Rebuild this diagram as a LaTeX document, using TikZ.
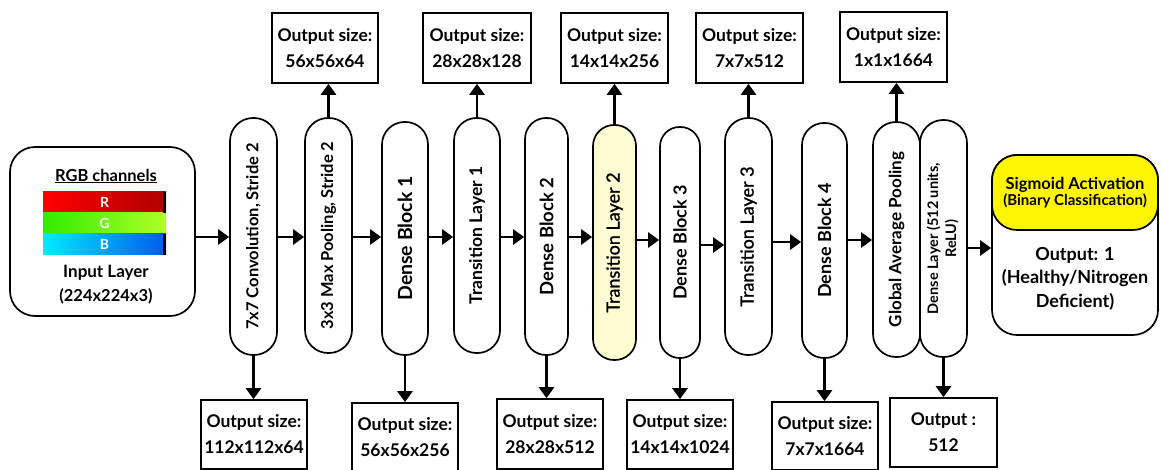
\documentclass[tikz,border=0pt]{standalone}
\usepackage{fontspec}
\setmainfont{Lato}
\newfontfamily\medfont{Lato}[FakeBold=1.3]
\usetikzlibrary{arrows.meta}
\definecolor{paleyellow}{RGB}{255,252,212}
\definecolor{sigyellow}{RGB}{255,245,0}
\newcommand\pillnode[8]{\node[pill, minimum width=#4pt, minimum height=#5pt, rounded corners=#6pt, #8] (#1) at (#2,#3) {\rotatebox{90}{#7}};}
\newcommand\outbox[6]{\node[obox, minimum width=#4pt, minimum height=#5pt] (#1) at (#2,#3) {#6};}
\begin{document}
\begin{tikzpicture}[x=1pt,y=-1pt,
  pill/.style={draw, line width=1.7pt, inner sep=0pt, fill=white},
  obox/.style={draw, line width=1.7pt, inner sep=0pt, align=center, font=\bfseries\fontsize{17.5}{26}\selectfont},
  arr/.style={line width=2.8pt, -{Triangle[width=15pt,length=11pt]}},
  bar/.style={inner sep=0pt, minimum width=123pt, minimum height=21pt, text=white, font=\bfseries\fontsize{14}{14}\selectfont},
]
\useasboundingbox (0,0) rectangle (1161,470);

% input layer
\node[draw, line width=1.7pt, rounded corners=25pt, minimum width=185pt, minimum height=169pt, inner sep=0pt] (in) at (102.5,231.5) {};
\node[font=\bfseries\fontsize{16.5}{16.5}\selectfont] (rgb) at (106,176) {\underline{RGB channels}};
\node[bar, left color=red, right color={rgb,255:red,175;green,0;blue,0}] (r) at (104.5,202.5) {R};
\node[bar, left color={rgb,255:red,50;green,235;blue,0}, right color={rgb,255:red,175;green,255;blue,40}] (g) at (104.5,223.5) {G};
\node[bar, left color={rgb,255:red,0;green,235;blue,255}, right color={rgb,255:red,0;green,90;blue,235}] (b) at (104.5,244.5) {B};
\fill[black] (r.north east) ++(-3,0) rectangle (r.south east);
\fill[black] (b.north east) ++(-3,0) rectangle (b.south east);
\node[font=\bfseries\fontsize{17}{17}\selectfont] (inl) at (106,273) {Input Layer};
\node[font=\bfseries\fontsize{16.5}{16.5}\selectfont] (ins) at (106,296) {(224x224x3)};

% pills
\pillnode{conv}{253.5}{236.5}{47}{237}{23}{\bfseries\fontsize{16.5}{16.5}\selectfont 7x7 Convolution, Stride 2}{}
\pillnode{pool}{328.5}{235.5}{47}{235}{23}{\bfseries\fontsize{16.5}{16.5}\selectfont 3x3 Max Pooling, Stride 2}{}
\pillnode{db1}{405}{238.5}{46}{233}{22.5}{\bfseries\fontsize{19.5}{19.5}\selectfont Dense Block 1}{}
\pillnode{t1}{477}{235.5}{46}{235}{22.5}{\bfseries\fontsize{17.5}{17.5}\selectfont Transition Layer 1}{}
\pillnode{db2}{546.5}{236.5}{43}{237}{21}{\bfseries\fontsize{18.5}{18.5}\selectfont Dense Block 2}{}
\pillnode{t2}{614.5}{242.5}{43}{235}{21}{\medfont\fontsize{18}{18}\selectfont Transition Layer 2}{fill=paleyellow}
\pillnode{db3}{680}{242.5}{40}{231}{19.5}{\bfseries\fontsize{18}{18}\selectfont Dense Block 3}{}
\pillnode{t3}{748.5}{236.5}{47}{237}{23}{\medfont\fontsize{18}{18}\selectfont Transition Layer 3}{}
\pillnode{db4}{824.5}{240.5}{45}{235}{22}{\bfseries\fontsize{18}{18}\selectfont Dense Block 4}{}
\pillnode{gap}{896.5}{239.5}{47}{235}{23}{\bfseries\fontsize{17}{17}\selectfont Global Average Pooling}{}
\pillnode{dl}{943.5}{238.5}{47}{237}{23}{\bfseries\fontsize{14.5}{18}\selectfont\begin{tabular}{@{}c@{}}Dense Layer (512 units,\\ReLU)\end{tabular}}{}

% output
\node[draw, line width=1.7pt, rounded corners=25pt, minimum width=166pt, minimum height=180pt, inner sep=0pt] (out) at (1075,245) {};
\node[draw, line width=1.7pt, rounded corners=25pt, fill=sigyellow, minimum width=166pt, minimum height=75pt, inner sep=0pt, align=center, font=\bfseries] (sig) at (1075,192.5) {\fontsize{16.5}{23}\selectfont Sigmoid Activation\\\fontsize{15}{15}\selectfont (Binary Classification)};
\node[align=center, font=\bfseries\fontsize{18}{23.5}\selectfont] (res) at (1075,278.5) {Output: 1\\(Healthy/Nitrogen\\Deficient)};

% top output boxes
\outbox{opool}{325}{48}{106}{70}{Output size:\\56x56x64}
\outbox{ot1}{477}{48}{108}{70}{Output size:\\28x28x128}
\outbox{ot2}{614.5}{48}{107}{70}{Output size:\\14x14x256}
\outbox{ot3}{749.5}{48}{107}{70}{Output size:\\7x7x512}
\outbox{ogap}{893.5}{47}{107}{70}{Output size:\\1x1x1664}
% bottom output boxes
\outbox{oconv}{254}{434.5}{106}{69}{Output size:\\112x112x64}
\outbox{odb1}{405}{437}{106}{68}{Output size:\\56x56x256}
\outbox{odb2}{550}{434}{106}{70}{Output size:\\28x28x512}
\outbox{odb3}{680}{434.5}{106}{69}{Output size:\\14x14x1024}
\outbox{odb4}{825}{436}{106}{68}{Output size:\\7x7x1664}
\outbox{odl}{943.5}{432.5}{107}{69}{Output :\\512}

% horizontal arrows
\draw[arr] (in.east |- 0,237) -- (conv.west |- 0,237);
\draw[arr] (conv.east |- 0,237) -- (pool.west |- 0,237);
\draw[arr] (pool.east |- 0,237) -- (db1.west |- 0,237);
\draw[arr] (db1.east |- 0,237) -- (t1.west |- 0,237);
\draw[arr] (t1.east |- 0,237) -- (db2.west |- 0,237);
\draw[arr] (db2.east |- 0,237) -- (t2.west |- 0,237);
\draw[arr] (t2.east |- 0,240) -- (db3.west |- 0,240);
\draw[arr] (db3.east |- 0,245) -- (t3.west |- 0,245);
\draw[arr] (t3.east |- 0,242) -- (db4.west |- 0,242);
\draw[arr] (db4.east |- 0,240) -- (gap.west |- 0,240);
\draw[arr] (dl.east |- 0,248) -- (out.west |- 0,248);

% vertical arrows
\draw[arr] (pool.north) -- (pool.north |- opool.south);
\draw[arr] (t1.north) -- (t1.north |- ot1.south);
\draw[arr] (t2.north) -- (t2.north |- ot2.south);
\draw[arr] (t3.north) -- (t3.north |- ot3.south);
\draw[arr] (gap.north) -- (gap.north |- ogap.south);
\draw[arr] (conv.south) -- (conv.south |- oconv.north);
\draw[arr] (db1.south) -- (db1.south |- odb1.north);
\draw[arr] (db2.south) -- (db2.south |- odb2.north);
\draw[arr] (db3.south) -- (db3.south |- odb3.north);
\draw[arr] (db4.south) -- (db4.south |- odb4.north);
\draw[arr] (dl.south) -- (dl.south |- odl.north);
\end{tikzpicture}
\end{document}
